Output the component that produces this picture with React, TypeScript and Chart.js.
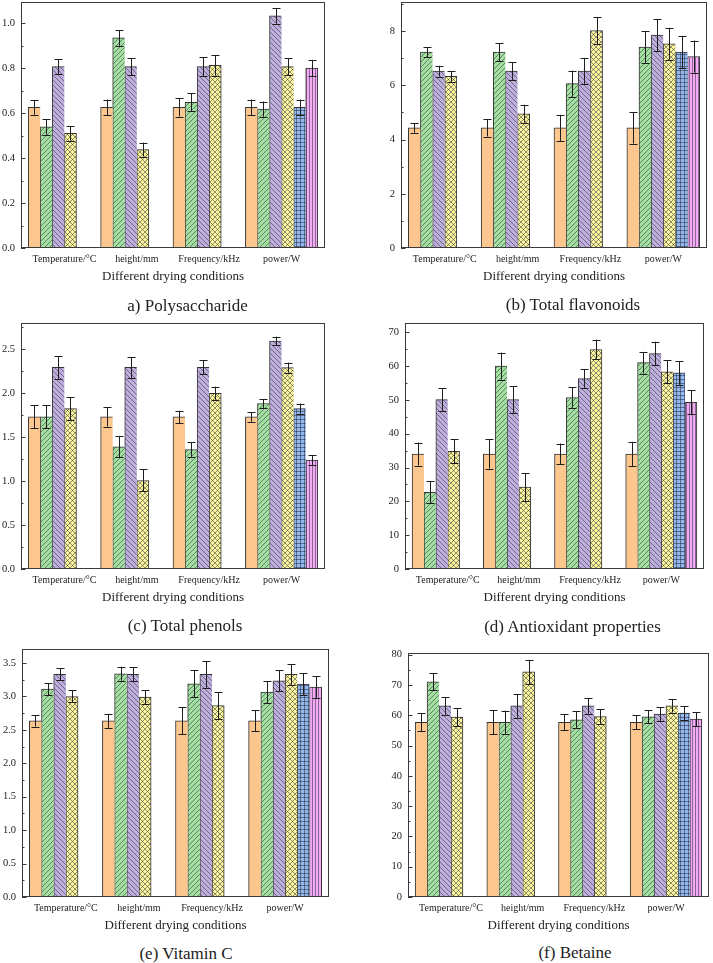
import React, { useEffect, useRef } from 'react';
import { Chart, registerables } from 'chart.js';

Chart.register(...registerables);
Chart.defaults.font.family = "'Liberation Serif', 'Times New Roman', serif";

// ---------- data ----------
const categories = ['Temperature/°C', 'height/mm', 'Frequency/kHz', 'power/W'];
const xAxisTitle = 'Different drying conditions';

const seriesColors = ['#FCC78F', '#A2DFA0', '#BDAEDC', '#FBF69E', '#92B8EE', '#F4AAF4'];
const seriesHatch = ['none', 'fwd', 'back', 'cross', 'grid', 'vert'];

// (a) Polysaccharide: one row per series, one column per category
const polyMean = [
  [0.626, 0.626, 0.626, 0.626],
  [0.539, 0.935, 0.648, 0.618],
  [0.807, 0.807, 0.807, 1.033],
  [0.510, 0.438, 0.813, 0.807],
  [null, null, null, 0.626],
  [null, null, null, 0.801],
];
const polyErr = [
  [0.033, 0.035, 0.041, 0.035],
  [0.035, 0.035, 0.040, 0.034],
  [0.033, 0.037, 0.043, 0.034],
  [0.032, 0.031, 0.046, 0.037],
  [null, null, null, 0.035],
  [null, null, null, 0.036],
];

// (b) Total flavonoids
const flavMean = [
  [4.43, 4.43, 4.43, 4.43],
  [7.22, 7.22, 6.06, 7.41],
  [6.52, 6.52, 6.52, 7.85],
  [6.33, 4.95, 8.02, 7.53],
  [null, null, null, 7.22],
  [null, null, null, 7.06],
];
const flavErr = [
  [0.18, 0.32, 0.48, 0.58],
  [0.19, 0.33, 0.48, 0.59],
  [0.20, 0.32, 0.49, 0.59],
  [0.20, 0.33, 0.50, 0.59],
  [null, null, null, 0.60],
  [null, null, null, 0.59],
];

// (c) Total phenols
const phenMean = [
  [1.728, 1.728, 1.728, 1.728],
  [1.728, 1.388, 1.358, 1.88],
  [2.29, 2.29, 2.29, 2.59],
  [1.823, 1.006, 1.997, 2.288],
  [null, null, null, 1.823],
  [null, null, null, 1.237],
];
const phenErr = [
  [0.13, 0.11, 0.07, 0.055],
  [0.13, 0.12, 0.08, 0.05],
  [0.13, 0.12, 0.08, 0.05],
  [0.13, 0.125, 0.075, 0.057],
  [null, null, null, 0.057],
  [null, null, null, 0.053],
];

// (d) Antioxidant properties
const antiMean = [
  [34.0, 34.0, 34.0, 34.0],
  [22.7, 60.0, 50.7, 61.0],
  [50.1, 50.1, 56.3, 63.7],
  [34.8, 24.2, 64.9, 58.3],
  [null, null, null, 58.0],
  [null, null, null, 49.3],
];
const antiErr = [
  [3.4, 4.3, 3.1, 3.6],
  [3.3, 4.0, 3.0, 3.2],
  [3.3, 4.0, 2.7, 3.5],
  [3.5, 4.1, 2.9, 3.4],
  [null, null, null, 3.5],
  [null, null, null, 3.6],
];

// (e) Vitamin C
const vitcMean = [
  [2.635, 2.635, 2.635, 2.635],
  [3.11, 3.34, 3.19, 3.065],
  [3.33, 3.33, 3.33, 3.235],
  [3.00, 2.99, 2.865, 3.33],
  [null, null, null, 3.185],
  [null, null, null, 3.14],
];
const vitcErr = [
  [0.085, 0.105, 0.2, 0.155],
  [0.09, 0.105, 0.2, 0.16],
  [0.09, 0.105, 0.2, 0.16],
  [0.09, 0.105, 0.2, 0.155],
  [null, null, null, 0.16],
  [null, null, null, 0.16],
];

// (f) Betaine
const betMean = [
  [57.7, 57.7, 57.7, 57.7],
  [71.0, 57.7, 58.5, 59.5],
  [63.1, 63.1, 63.1, 60.4],
  [59.4, 74.3, 59.6, 63.1],
  [null, null, null, 60.7],
  [null, null, null, 58.7],
];
const betErr = [
  [2.9, 4.0, 2.6, 2.3],
  [2.8, 3.8, 2.8, 2.2],
  [2.9, 3.9, 2.6, 2.3],
  [3.0, 4.0, 2.4, 2.2],
  [null, null, null, 2.2],
  [null, null, null, 2.3],
];

const captions = [
  'a) Polysaccharide',
  '(b) Total flavonoids',
  '(c) Total phenols',
  '(d) Antioxidant properties',
  '(e) Vitamin C',
  '(f) Betaine',
];
const yMaxes = [1.095, 9.07, 2.795, 72.74, 3.71, 80.55];
const ySteps = [0.2, 2, 0.5, 10, 0.5, 10];
const yDecimals = [1, 0, 1, 0, 1, 0];

// ---------- layout (pixels) ----------
const panelRects = [
  { col: 0, L: 21, T: 2, R: 325, B: 248, cx: 187.5, cy: 305 },
  { col: 356, L: 401, T: 2, R: 707, B: 248, cx: 573, cy: 303.5 },
  { col: 0, L: 21, T: 323, R: 325, B: 569, cx: 185, cy: 625 },
  { col: 356, L: 405, T: 323, R: 704, B: 569, cx: 572.5, cy: 625.5 },
  { col: 0, L: 22, T: 649, R: 329, B: 897, cx: 186, cy: 953 },
  { col: 356, L: 408, T: 653, R: 709, B: 897, cx: 575, cy: 952 },
];
const PAD_TOP = 20;
const PAD_RIGHT = 4;
const X_AXIS_H = 38;
const X_EDGE = 0.1; // extra space (in group widths) at each end of x axis

const panelMeans = [polyMean, flavMean, phenMean, antiMean, vitcMean, betMean];
const panelErrs = [polyErr, flavErr, phenErr, antiErr, vitcErr, betErr];

function makePattern(bg: string, kind: string): CanvasPattern | string {
  if (kind === 'none') return bg;
  const s = kind === 'vert' ? 3 : kind === 'grid' ? 4 : 5;
  const c = document.createElement('canvas');
  c.width = s;
  c.height = s;
  const g = c.getContext('2d')!;
  g.fillStyle = bg;
  g.fillRect(0, 0, s, s);
  g.strokeStyle = 'rgba(30,30,45,0.75)';
  g.lineWidth = 0.65;
  g.beginPath();
  if (kind === 'fwd' || kind === 'cross') {
    g.moveTo(0, s); g.lineTo(s, 0);
    g.moveTo(-1, 1); g.lineTo(1, -1);
    g.moveTo(s - 1, s + 1); g.lineTo(s + 1, s - 1);
  }
  if (kind === 'back' || kind === 'cross') {
    g.moveTo(0, 0); g.lineTo(s, s);
    g.moveTo(-1, s - 1); g.lineTo(1, s + 1);
    g.moveTo(s - 1, -1); g.lineTo(s + 1, 1);
  }
  if (kind === 'grid') {
    g.moveTo(0, 0.5); g.lineTo(s, 0.5);
    g.moveTo(0.5, 0); g.lineTo(0.5, s);
  }
  if (kind === 'vert') {
    g.moveTo(0.5, 0); g.lineTo(0.5, s);
  }
  g.stroke();
  const p = g.createPattern(c, 'repeat');
  return p || bg;
}

function PanelChart({ idx }: { idx: number }) {
  const ref = useRef<HTMLCanvasElement>(null);
  const r = panelRects[idx];
  const left = r.col;
  const top = r.T - PAD_TOP;
  const width = r.R + PAD_RIGHT - r.col;
  const height = r.B + X_AXIS_H - top;
  const yW = r.L - r.col;

  useEffect(() => {
    const canvas = ref.current!;
    const means = panelMeans[idx];
    const errs = panelErrs[idx];
    const lastIdx = categories.map((_, ci) => {
      let last = 0;
      means.forEach((row, si) => { if (row[ci] !== null) last = si; });
      return last;
    });
    const patterns = seriesColors.map((c, i) => makePattern(c, seriesHatch[i]));

    const errPlugin = {
      id: 'errbars',
      afterDatasetsDraw(chart: any) {
        const ctx = chart.ctx;
        const ys = chart.scales.y;
        ctx.save();
        ctx.strokeStyle = '#1e1e1e';
        ctx.lineWidth = 1;
        chart.data.datasets.forEach((_: any, si: number) => {
          const meta = chart.getDatasetMeta(si);
          meta.data.forEach((el: any, ci: number) => {
            const v = means[si][ci];
            const e = errs[si][ci];
            if (v === null || e === null) return;
            const x = Math.round(el.x) + 0.5;
            const y1 = ys.getPixelForValue(v + e);
            const y2 = ys.getPixelForValue(v - e);
            const cap = 4;
            ctx.beginPath();
            ctx.moveTo(x, y1); ctx.lineTo(x, y2);
            ctx.moveTo(x - cap, Math.round(y1) + 0.5); ctx.lineTo(x + cap, Math.round(y1) + 0.5);
            ctx.moveTo(x - cap, Math.round(y2) + 0.5); ctx.lineTo(x + cap, Math.round(y2) + 0.5);
            ctx.stroke();
          });
        });
        ctx.restore();
      },
    };

    const framePlugin = {
      id: 'frame',
      afterDraw(chart: any) {
        const ctx = chart.ctx;
        const { left: l, right: rr, top: t, bottom: b } = chart.chartArea;
        const ys = chart.scales.y;
        ctx.save();
        ctx.strokeStyle = '#3a3a3a';
        ctx.lineWidth = 1;
        ctx.strokeRect(l + 0.5, t + 0.5, rr - l - 1, b - t - 1);
        ctx.beginPath();
        const step = ySteps[idx];
        ys.ticks.forEach((tk: any) => {
          const py = Math.round(ys.getPixelForValue(tk.value)) + 0.5;
          ctx.moveTo(l, py); ctx.lineTo(l + 4.5, py);
          const mv = tk.value + step / 2;
          if (mv < ys.max) {
            const pm = Math.round(ys.getPixelForValue(mv)) + 0.5;
            ctx.moveTo(l, pm); ctx.lineTo(l + 2.5, pm);
          }
        });
        ctx.stroke();
        ctx.restore();
      },
    };

    const chart = new Chart(canvas, {
      type: 'bar',
      data: {
        datasets: seriesColors.map((_, si) => ({
          label: 'S' + (si + 1),
          data: categories.map((__, ci) => ({ x: ci, y: means[si][ci] })),
          backgroundColor: patterns[si] as any,
          borderColor: '#333333',
          borderWidth: (c: any) => ({
            left: 1,
            top: 1,
            bottom: 0,
            right: lastIdx[c.dataIndex] === si ? 1 : 0,
          }),
          barPercentage: 1,
          categoryPercentage: 1,
        })),
      } as any,
      options: {
        responsive: false,
        animation: false,
        events: [],
        layout: { padding: { left: 0, top: PAD_TOP, right: PAD_RIGHT, bottom: 0 } },
        plugins: {
          legend: { display: false },
          tooltip: { enabled: false },
          title: { display: false },
        },
        scales: {
          x: {
            type: 'linear',
            min: -0.5 - X_EDGE,
            max: categories.length - 0.5 + X_EDGE,
            offset: false,
            bounds: 'data',
            grid: { display: false, drawTicks: false },
            border: { display: false },
            afterBuildTicks: (s: any) => {
              s.ticks = categories.map((__, i) => ({ value: i }));
            },
            ticks: {
              autoSkip: false,
              maxRotation: 0,
              minRotation: 0,
              padding: 5,
              color: '#222',
              font: { size: 10 },
              callback: (v: any) => {
                const n = Math.round(Number(v));
                return n >= 0 && n < categories.length ? categories[n] : '';
              },
            },
            title: {
              display: true,
              text: xAxisTitle,
              color: '#222',
              font: { size: 13 },
              padding: { top: 0, bottom: 1.2 },
            },
            afterFit: (s: any) => { s.height = X_AXIS_H; },
          },
          y: {
            type: 'linear',
            min: 0,
            max: yMaxes[idx],
            bounds: 'data',
            grid: { display: false, drawTicks: false },
            border: { display: false },
            ticks: {
              stepSize: ySteps[idx],
              includeBounds: false,
              padding: 6,
              color: '#222',
              font: { size: 10.5 },
              callback: (v: any) => Number(v).toFixed(yDecimals[idx]),
            },
            afterFit: (s: any) => { s.width = yW; },
          },
        },
      } as any,
      plugins: [errPlugin, framePlugin],
    });
    return () => chart.destroy();
  }, [idx]);

  return (
    <canvas
      ref={ref}
      width={width}
      height={height}
      style={{ position: 'absolute', left, top, width, height }}
    />
  );
}

export default function App() {
  return (
    <div
      style={{
        position: 'fixed',
        left: 0,
        top: 0,
        width: 713,
        height: 963,
        background: '#ffffff',
        overflow: 'hidden',
      }}
    >
      {panelRects.map((_, i) => (
        <PanelChart key={i} idx={i} />
      ))}
      {panelRects.map((r, i) => (
        <div
          key={'c' + i}
          style={{
            position: 'absolute',
            left: r.cx,
            top: r.cy,
            transform: 'translate(-50%, -50%)',
            whiteSpace: 'nowrap',
            fontFamily: "'Liberation Serif', 'Times New Roman', serif",
            fontSize: 17,
            lineHeight: 1,
            color: '#222',
          }}
        >
          {captions[i]}
        </div>
      ))}
    </div>
  );
}
